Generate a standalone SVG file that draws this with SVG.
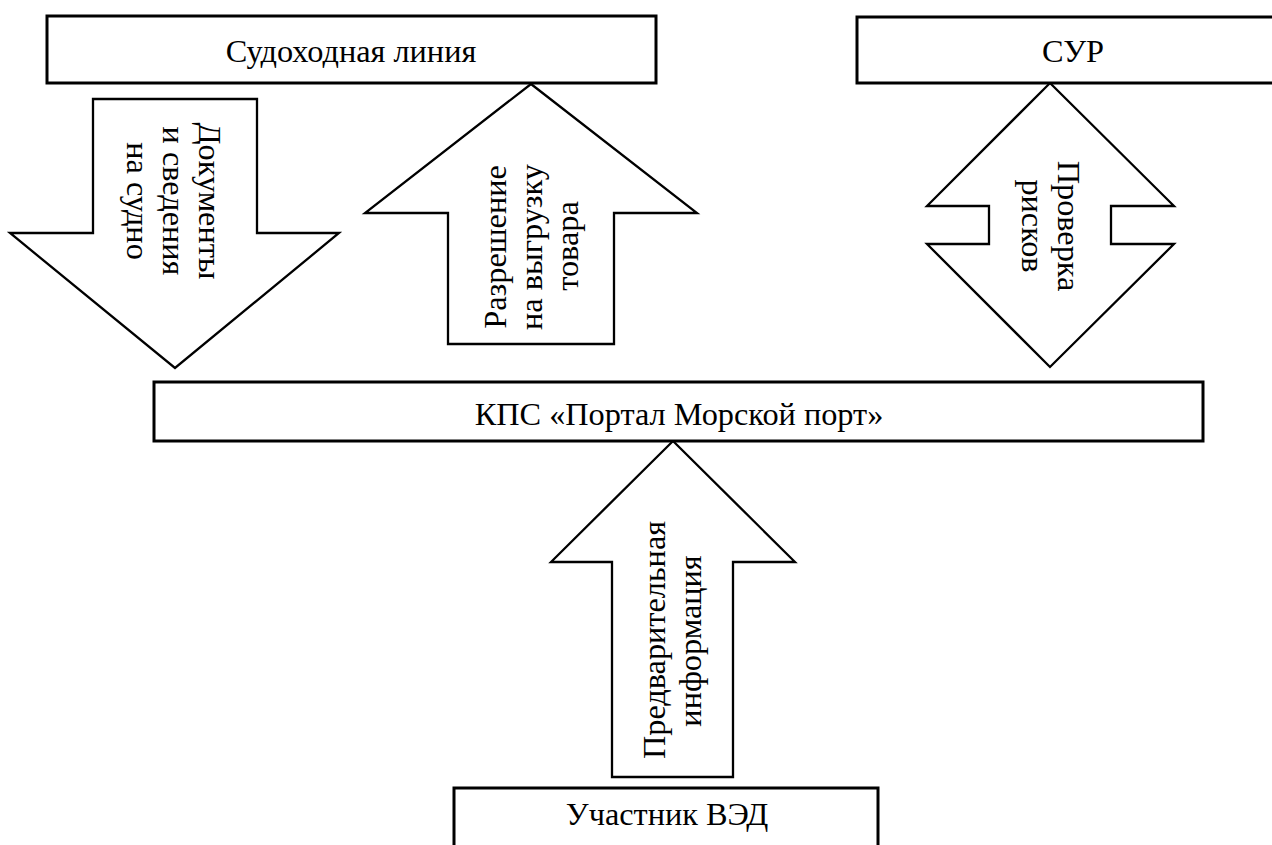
<svg xmlns="http://www.w3.org/2000/svg" width="1272" height="845" viewBox="0 0 1272 845">
  <style>
    .box { fill: #ffffff; stroke: #000000; stroke-width: 3; }
    .arrow { fill: #ffffff; stroke: #000000; stroke-width: 2.3; stroke-linejoin: miter; }
    .label { font-family: "Liberation Serif", "Times New Roman", serif; font-size: 32.3px; fill: #000000; text-anchor: middle; }
  </style>
  <rect width="1272" height="845" fill="#ffffff"/>

  <!-- Flow arrows -->
  <g id="connectors">
    <g id="arrow-documents">
      <polygon class="arrow" points="93,99 257,99 257,233 339,233 175,368 10,233 93,233"/>
      <text class="label" transform="translate(199,201) rotate(90)">Документы</text>
      <text class="label" transform="translate(163,201) rotate(90)">и сведения</text>
      <text class="label" transform="translate(127,201) rotate(90)">на судно</text>
    </g>
    <g id="arrow-unloading">
      <polygon class="arrow" points="531,84 697,213 614,213 614,344 448,344 448,213 365,213"/>
      <text class="label" transform="translate(506,247) rotate(-90)">Разрешение</text>
      <text class="label" transform="translate(542,247) rotate(-90)">на выгрузку</text>
      <text class="label" transform="translate(578,246) rotate(-90)">товара</text>
    </g>
    <g id="arrow-risks">
      <polygon class="arrow" points="1050,83 1174,206 1111,206 1111,244 1174,244 1050,367 927,244 989,244 989,206 927,206"/>
      <text class="label" transform="translate(1058,226) rotate(90)">Проверка</text>
      <text class="label" transform="translate(1022,226) rotate(90)">рисков</text>
    </g>
    <g id="arrow-preliminary">
      <polygon class="arrow" points="673,441 795,562 733,562 733,777 612,777 612,562 551,562"/>
      <text class="label" transform="translate(665,640) rotate(-90)">Предварительная</text>
      <text class="label" transform="translate(701,641) rotate(-90)">информация</text>
    </g>
  </g>

  <g id="node-shipping-line">
    <rect class="box" x="47" y="16" width="609" height="67"/>
    <text class="label" x="351" y="62">Судоходная линия</text>
  </g>

  <g id="node-sur">
    <rect class="box" x="857" y="17" width="440" height="66"/>
    <text class="label" x="1073" y="62">СУР</text>
  </g>

  <g id="node-portal">
    <rect class="box" x="154" y="382" width="1049" height="59"/>
    <text class="label" x="679" y="425">КПС «Портал Морской порт»</text>
  </g>

  <g id="node-participant">
    <rect class="box" x="454" y="788" width="424" height="80"/>
    <text class="label" x="667" y="825">Участник ВЭД</text>
  </g>
</svg>
